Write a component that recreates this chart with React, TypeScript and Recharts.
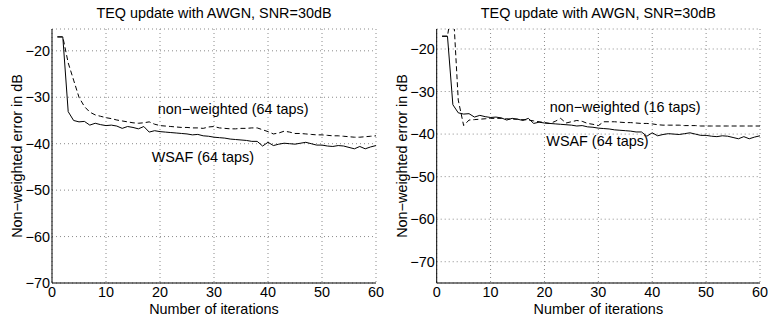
import { CartesianGrid, Line, LineChart, XAxis, YAxis } from 'recharts';

const FONT = '"Liberation Sans", Arial, Helvetica, sans-serif';
const FS = 14.4;

const ITERATIONS = [
  1, 2, 3, 4, 5, 6, 7, 8, 9, 10, 11, 12, 13, 14, 15, 16, 17, 18, 19, 20,
  21, 22, 23, 24, 25, 26, 27, 28, 29, 30, 31, 32, 33, 34, 35, 36, 37, 38, 39, 40,
  41, 42, 43, 44, 45, 46, 47, 48, 49, 50, 51, 52, 53, 54, 55, 56, 57, 58, 59, 60,
];

// WSAF, 64 taps (same curve in both panels)
const WSAF_64 = [
  -17.0, -17.0, -33.1, -35.0, -35.3, -35.2, -36.0, -35.6, -35.9, -36.1,
  -36.0, -36.2, -36.7, -36.3, -36.5, -36.8, -36.3, -37.5, -37.2, -37.4,
  -37.5, -37.6, -37.7, -37.8, -37.9, -38.1, -38.0, -38.3, -38.4, -38.6,
  -38.7, -38.8, -39.0, -39.1, -39.2, -39.3, -39.5, -39.5, -40.5, -39.7,
  -40.4, -40.1, -39.9, -40.0, -40.1, -39.9, -39.7, -40.0, -40.3, -40.3,
  -40.5, -40.6, -40.4, -40.5, -40.8, -41.1, -40.6, -41.1, -40.7, -40.4,
];

// non-weighted, 64 taps (left panel)
const NW_64 = [
  -17.0, -17.0, -22.6, -26.3, -30.0, -32.0, -33.2, -33.8, -34.1, -34.4,
  -34.6, -34.9, -35.1, -35.3, -35.5, -35.6, -35.5, -35.3, -35.8, -36.1,
  -36.2, -36.3, -36.4, -36.5, -36.5, -36.6, -36.6, -36.7, -36.4, -36.3,
  -36.6, -36.7, -36.8, -36.8, -36.7, -36.7, -36.6, -36.6, -37.0, -37.4,
  -37.9, -37.7, -37.3, -37.5, -37.8, -37.8, -37.9, -38.0, -38.1, -38.1,
  -38.2, -38.3, -38.3, -38.4, -38.5, -38.6, -38.6, -38.5, -38.4, -38.3,
];

// non-weighted, 16 taps (right panel)
const NW_16 = [
  -17.0, -17.0, -9.0, -32.0, -38.0, -36.7, -36.6, -36.5, -36.4, -36.3,
  -36.3, -36.3, -36.4, -36.5, -36.5, -36.6, -36.7, -36.9, -37.1, -37.3,
  -37.5, -37.0, -36.3, -37.4, -37.1, -36.8, -37.0, -37.5, -37.7, -38.0,
  -37.1, -37.1, -37.1, -37.2, -37.3, -37.3, -37.4, -37.5, -37.5, -37.6,
  -37.8, -37.9, -37.9, -37.9, -37.9, -38.0, -38.0, -38.0, -38.1, -38.1,
  -38.1, -38.1, -38.1, -38.1, -38.1, -38.1, -38.1, -38.1, -38.1, -38.1,
];

const X_TICKS = [0, 10, 20, 30, 40, 50, 60];
const Y_TICKS = [-70, -60, -50, -40, -30, -20];

const TITLE = 'TEQ update with AWGN, SNR=30dB';
const X_LABEL = 'Number of iterations';
const Y_LABEL = 'Non\u2212weighted error in dB';

const minus = (v: number) => String(v).replace('-', '\u2212');
const tickStyle = { fontSize: FS, fill: '#000', fontFamily: FONT };

interface PanelProps {
  dashed: number[];
  yMin: number;
  marginLeft: number;
}

function Panel({ dashed, yMin, marginLeft }: PanelProps) {
  const rows = ITERATIONS.map((it, i) => ({ iter: it, wsaf: WSAF_64[i], nw: dashed[i] }));
  const domain: [number, number] = [yMin, -15.3];
  return (
    <LineChart
      width={384}
      height={322}
      data={rows}
      margin={{ top: 29, right: 8, bottom: 9, left: marginLeft }}
    >
      <CartesianGrid stroke="#8a8a8a" strokeDasharray="1 3" />
      <XAxis
        dataKey="iter"
        type="number"
        domain={[0, 60]}
        ticks={X_TICKS}
        height={30}
        tickSize={0}
        tickMargin={4}
        tick={tickStyle}
        axisLine={{ stroke: '#000' }}
      />
      <XAxis
        xAxisId="top"
        orientation="top"
        dataKey="iter"
        type="number"
        domain={[0, 60]}
        ticks={X_TICKS}
        height={0}
        tick={false}
        tickLine={false}
        axisLine={{ stroke: '#000' }}
      />
      <YAxis
        type="number"
        domain={domain}
        ticks={Y_TICKS}
        allowDataOverflow
        width={40}
        tickSize={0}
        tickMargin={2}
        tick={tickStyle}
        tickFormatter={minus}
        axisLine={{ stroke: '#000' }}
      />
      <YAxis
        yAxisId="right"
        orientation="right"
        type="number"
        domain={domain}
        ticks={Y_TICKS}
        allowDataOverflow
        width={0}
        tick={false}
        tickLine={false}
        axisLine={{ stroke: '#000' }}
      />
      <Line dataKey="nw" stroke="#000" strokeWidth={1} strokeDasharray="5 3" dot={false} isAnimationActive={false} />
      <Line dataKey="wsaf" stroke="#000" strokeWidth={1} dot={false} isAnimationActive={false} />
    </LineChart>
  );
}

export default function App() {
  const text = { fontSize: FS, fill: '#000', fontFamily: FONT };
  return (
    <div style={{ position: 'absolute', left: 0, top: 0, width: 768, height: 322, background: '#fff' }}>
      <div style={{ position: 'absolute', left: 0, top: 0 }}>
        <Panel dashed={NW_64} yMin={-70} marginLeft={12} />
      </div>
      <div style={{ position: 'absolute', left: 384, top: 0 }}>
        <Panel dashed={NW_16} yMin={-75} marginLeft={12.7} />
      </div>
      <svg width={768} height={322} style={{ position: 'absolute', left: 0, top: 0, pointerEvents: 'none' }}>
        <text x={214} y={17.5} textAnchor="middle" {...text}>{TITLE}</text>
        <text x={598.3} y={17.5} textAnchor="middle" {...text}>{TITLE}</text>
        <text x={214} y={313.5} textAnchor="middle" {...text}>{X_LABEL}</text>
        <text x={598.3} y={313.5} textAnchor="middle" {...text}>{X_LABEL}</text>
        <text transform="translate(21.5,156) rotate(-90)" textAnchor="middle" {...text}>{Y_LABEL}</text>
        <text transform="translate(406.5,156) rotate(-90)" textAnchor="middle" {...text}>{Y_LABEL}</text>
        <text x={157.7} y={113.5} {...text}>non{'\u2212'}weighted (64 taps)</text>
        <text x={151.7} y={161.5} {...text}>WSAF (64 taps)</text>
        <text x={549.7} y={111.7} {...text}>non{'\u2212'}weighted (16 taps)</text>
        <text x={546.3} y={145.5} {...text}>WSAF (64 taps)</text>
      </svg>
    </div>
  );
}
